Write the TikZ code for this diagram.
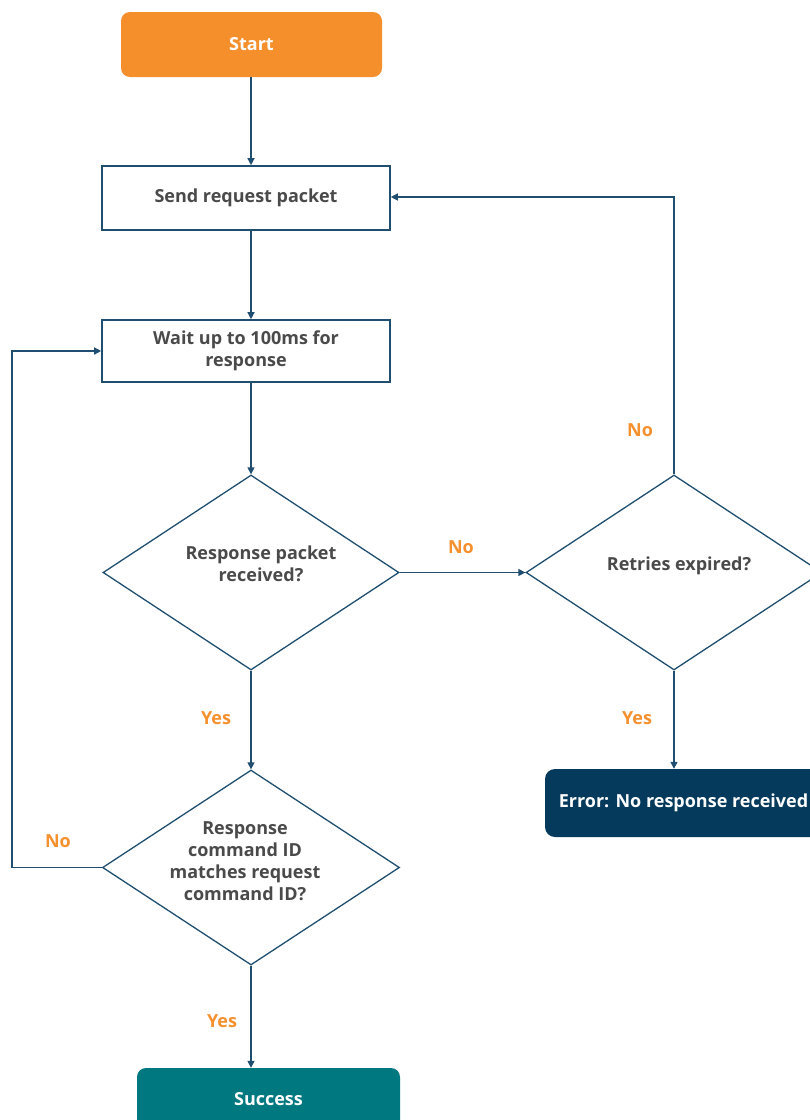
\documentclass[tikz,border=0pt]{standalone}
\usepackage{fontspec}
\setmainfont{Open Sans}
\usetikzlibrary{arrows.meta,shapes.geometric}
\definecolor{startor}{HTML}{F58F2C}
\definecolor{edgeblue}{HTML}{1F4E70}
\definecolor{navy}{HTML}{053A5C}
\definecolor{tealc}{HTML}{00787F}
\definecolor{txtgray}{HTML}{4A4A4A}
\definecolor{lblor}{HTML}{F5902E}
\tikzset{
  every node/.style={font=\fontsize{18}{22}\selectfont\bfseries},
  termbox/.style={rectangle, rounded corners=9pt, text=white, align=center, inner sep=0pt},
  procbox/.style={rectangle, draw=edgeblue, line width=1.6pt, fill=white, text=txtgray, align=center, inner sep=0pt, minimum width=288pt},
  decision/.style={diamond, draw=edgeblue, line width=1.3pt, fill=white, inner sep=0pt, minimum width=296pt, minimum height=195pt},
  dtext/.style={text=txtgray, align=center, inner sep=0pt},
  arr/.style={draw=edgeblue, line width=1.3pt, -{Triangle[length=7pt,width=7pt]}},
  lbl/.style={text=lblor}
}
\begin{document}
\begin{tikzpicture}[x=1pt,y=-1pt]
\useasboundingbox (0,0) rectangle (810,1120);
\clip (0,0) rectangle (810,1120);
\node[termbox, fill=startor, minimum width=261pt, minimum height=65pt] (start) at (251.5,44.5) {Start};
\node[procbox, minimum height=64pt] (send) at (246,198) {\raisebox{-2pt}{Send request packet}};
\node[procbox, minimum height=62pt] (wait) at (246,351) {Wait up to 100ms for\\response};
\node[decision] (d1) at (251,572.5) {};
\node[dtext] (d1t) at (261,564) {Response packet\\received?};
\node[decision] (d2) at (674,572.5) {};
\node[dtext] (d2t) at (679,566) {Retries expired?};
\node[termbox, fill=navy, minimum width=277pt, minimum height=68pt, rounded corners=10pt] (err) at (683.5,803) {\raisebox{-2pt}{Error: No response received}};
\node[decision, minimum width=297pt] (d3) at (251,867.5) {};
\node[dtext] (d3t) at (245,861) {Response\\command ID\\matches request\\command ID?};
\node[termbox, fill=tealc, minimum width=263pt, minimum height=62pt] (succ) at (268.5,1099) {Success};
\coordinate (c1) at (674,197);
\coordinate (c2) at (12,867.5);
\coordinate (c3) at (12,351);
\draw[arr] (d1.north |- start.south) -- (d1.north |- send.north);
\draw[arr] (d1.north |- send.south) -- (d1.north |- wait.north);
\draw[arr] (d1.north |- wait.south) -- (d1.north);
\draw[arr] (d1.east) -- (d2.west);
\draw[arr] (d1.south) -- (d3.north);
\draw[arr] (d2.north) -- (c1) -- (c1 -| send.east);
\draw[arr] (d2.south) -- (d2.south |- err.north);
\draw[arr] (d3.west) -- (c2) -- (c3) -- (wait.west);
\draw[arr] (d3.south) -- (d3.south |- succ.north);
\node[lbl] (l1) at (461,547) {No};
\node[lbl] (l2) at (216,718) {Yes};
\node[lbl] (l3) at (640,430) {No};
\node[lbl] (l4) at (637,718) {Yes};
\node[lbl] (l5) at (58,841) {No};
\node[lbl] (l6) at (222,1021) {Yes};
\end{tikzpicture}
\end{document}
